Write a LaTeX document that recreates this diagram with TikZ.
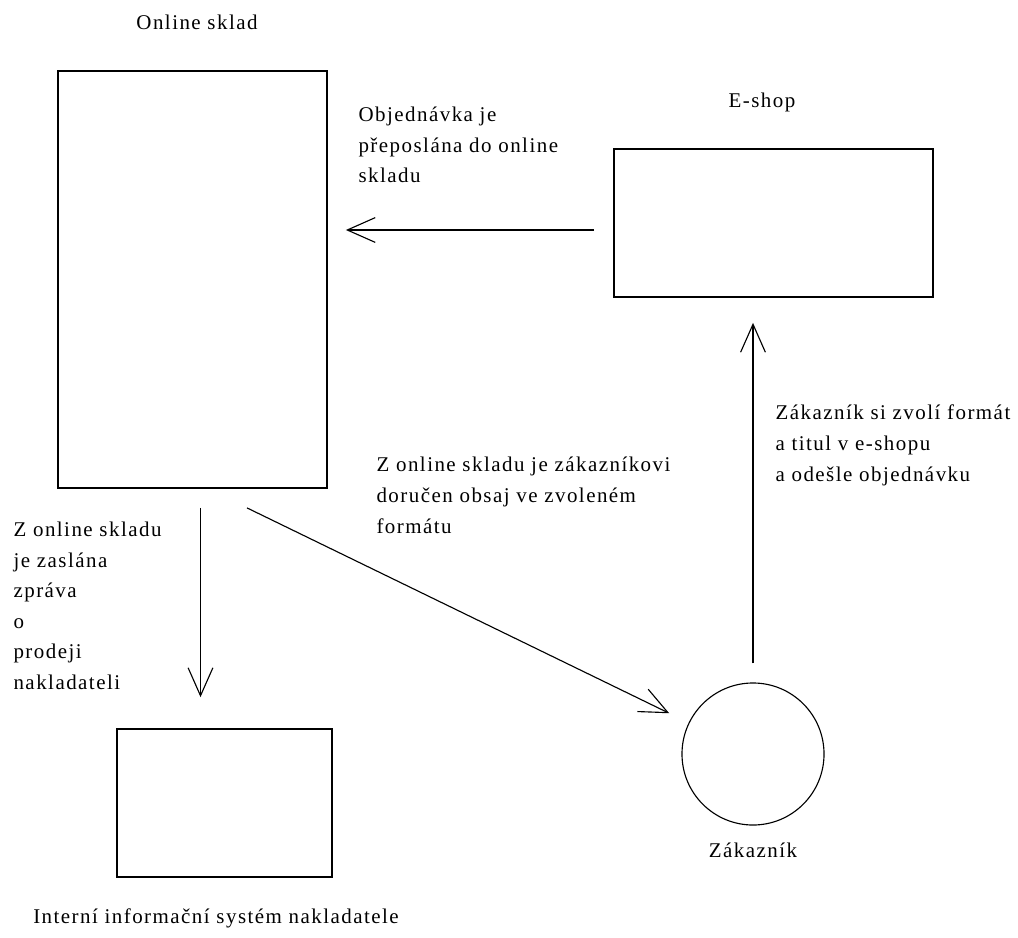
\documentclass[tikz,border=0pt]{standalone}
\usepackage{fontspec}
\setmainfont[LetterSpace=7]{Liberation Serif}
\usetikzlibrary{arrows.meta}

\begin{document}
\begin{tikzpicture}[x=.025cm,y=-.025cm,line width=.8pt,
  every node/.style={font=\fontsize{14.9}{21.7}\selectfont,inner sep=0pt},
  box/.style={draw,line width=1.2pt},
  arr/.style={-{Straight Barb[length=.7cm,width=.62cm]}},
  txt/.style={anchor=base west,align=left}]
\useasboundingbox (0,0) rectangle (1018,938);
\node[box,minimum width=6.725cm,minimum height=10.425cm] (sklad) at (192.5,279.5) {};
\node[box,minimum width=7.975cm,minimum height=3.7cm] (eshop) at (773.5,223) {};
\node[box,minimum width=5.375cm,minimum height=3.7cm] (nakl) at (224.5,803) {};
\node[draw,circle,minimum size=3.55cm] (zak) at (753,754) {};
\node (skladlbl) at (197,22) {Online sklad};
\node (eshoplbl) at (762,102) {E-shop};
\node (zaklbl) at (753,850) {Zákazník};
\node (nakllbl) at (216,918) {Interní informační systém nakladatele};
\node[txt] (objtxt) at (358,183) {Objednávka je\\přeposlána do online\\skladu};
\node[txt] (zaktxt) at (775,481) {Zákazník si zvolí formát\\a titul v e-shopu\\a odešle objednávku};
\node[txt] (dortxt) at (376,533) {Z online skladu je zákazníkovi\\doručen obsaj ve zvoleném\\formátu};
\node[txt] (zprtxt) at (13,689.5) {Z online skladu\\je zaslána\\zpráva\\o\\prodeji\\nakladateli};
\draw[arr,shorten <=.475cm,shorten >=.45cm] ([yshift=-.175cm]eshop.west) -- ([yshift=-.175cm]eshop.west -| sklad.east);
\draw[arr,shorten <=.475cm,shorten >=.625cm] (zak.north) -- (zak.north |- eshop.south);
\draw[arr,shorten <=.475cm,shorten >=.775cm] ([xshift=.2cm]sklad.south) -- ([xshift=.2cm]sklad.south |- nakl.north);
\draw[arr,shorten >=.54cm] ([xshift=1.3625cm,yshift=-.475cm]sklad.south) -- (zak);
\end{tikzpicture}
\end{document}
